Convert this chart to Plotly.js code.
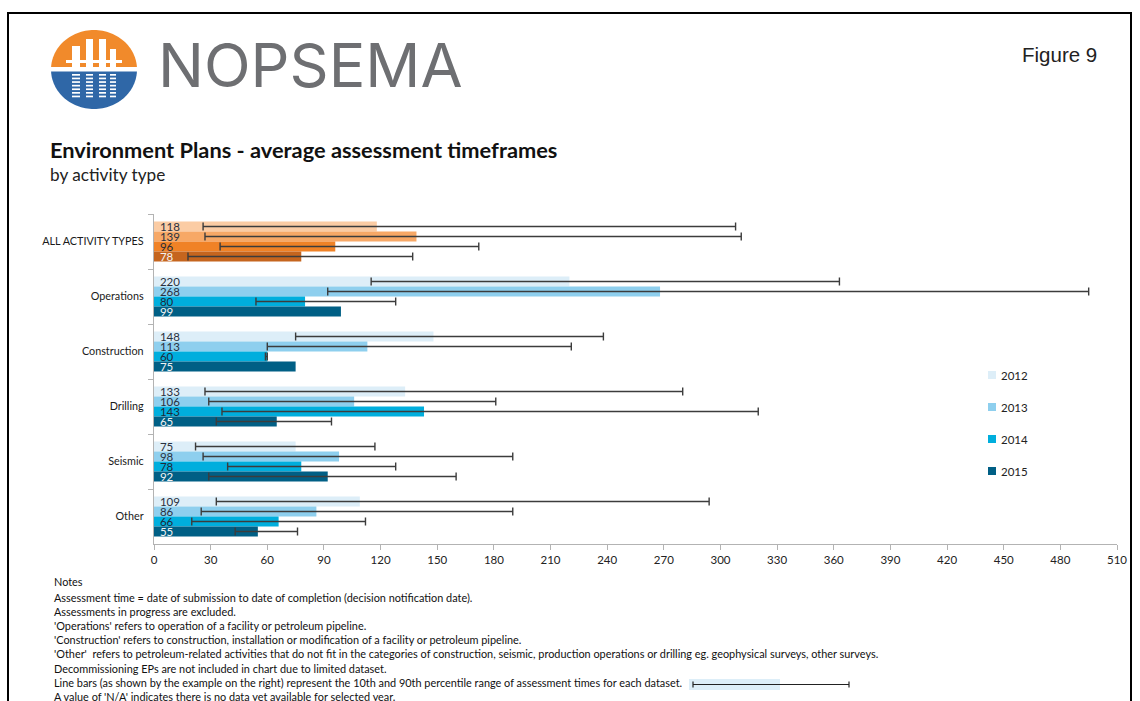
<!DOCTYPE html>
<html>
<head>
<meta charset="utf-8">
<script src="https://cdn.plot.ly/plotly-3.0.1.min.js"></script>
<style>
html,body{margin:0;padding:0;background:#fff;}
#chart{width:1140px;height:701px;}
</style>
</head>
<body>
<div id="chart"></div>
<script>
// ---------------- DATA ----------------
var categories = ['ALL ACTIVITY TYPES', 'Operations', 'Construction', 'Drilling', 'Seismic', 'Other'];
var years = ['2012', '2013', '2014', '2015'];

// average assessment time (days)
var avg2012 = [118, 220, 148, 133, 75, 109];
var avg2013 = [139, 268, 113, 106, 98, 86];
var avg2014 = [96, 80, 60, 143, 78, 66];
var avg2015 = [78, 99, 75, 65, 92, 55];

// 10th percentile
var p10_2012 = [26, 115, 75, 27, 22, 33];
var p10_2013 = [27, 92, 60, 29, 26, 25];
var p10_2014 = [35, 54, 59, 36, 39, 20];
var p10_2015 = [18, null, null, 33, 29, 43];

// 90th percentile
var p90_2012 = [308, 363, 238, 280, 117, 294];
var p90_2013 = [311, 495, 221, 181, 190, 190];
var p90_2014 = [172, 128, 60, 320, 128, 112];
var p90_2015 = [137, null, null, 94, 160, 76];

var xTicks = [0, 30, 60, 90, 120, 150, 180, 210, 240, 270, 300, 330, 360, 390, 420, 450, 480, 510];

var notes = [
  'Notes',
  'Assessment time = date of submission to date of completion (decision notification date).',
  'Assessments in progress are excluded.',
  "'Operations' refers to operation of a facility or petroleum pipeline.",
  "'Construction' refers to construction, installation or modification of a facility or petroleum pipeline.",
  "'Other'  refers to petroleum-related activities that do not fit in the categories of construction, seismic, production operations or drilling eg. geophysical surveys, other surveys.",
  'Decommissioning EPs are not included in chart due to limited dataset.',
  'Line bars (as shown by the example on the right) represent the 10th and 90th percentile range of assessment times for each dataset.',
  "A value of 'N/A' indicates there is no data yet available for selected year."
];

// ---------------- STYLE ----------------
var blueColors = ['#DDEEF8', '#8ECFEE', '#00AEDD', '#005F85'];
var orangeColors = ['#FBCCA4', '#F7A866', '#F08226', '#C5651E'];
var labelColors = ['#2a3140', '#2a3140', '#1f2a38', '#f2f2f2'];
var FONT = 'Lato, "Open Sans", sans-serif';

// plot area in pixels
var PL = 154, PR = 1117, PT = 214, PB = 544;
function X(px) { return (px - PL) / (PR - PL); }
function Y(py) { return (PB - py) / (PB - PT); }

var avgs = [avg2012, avg2013, avg2014, avg2015];
var p10s = [p10_2012, p10_2013, p10_2014, p10_2015];
var p90s = [p90_2012, p90_2013, p90_2014, p90_2015];

var traces = [];
for (var k = 0; k < 4; k++) {
  var m = avgs[k];
  var plus = m.map(function (v, i) { var h = p90s[k][i]; return h == null ? NaN : h - v; });
  var minus = m.map(function (v, i) { var l = p10s[k][i]; return l == null ? NaN : v - l; });
  var cols = categories.map(function (c, i) { return i === 0 ? orangeColors[k] : blueColors[k]; });
  traces.push({
    type: 'bar',
    orientation: 'h',
    name: years[k],
    y: categories,
    x: m,
    text: m.map(function (v) { return '\u00a0' + v; }),
    textposition: 'inside',
    insidetextanchor: 'start',
    constraintext: 'none',
    textangle: 0,
    textfont: { family: FONT, size: 11.5, color: labelColors[k] },
    marker: { color: cols, line: { width: 0 } },
    error_x: {
      type: 'data', symmetric: false, array: plus, arrayminus: minus,
      color: '#3c3c3c', thickness: 1.4, width: 4
    },
    showlegend: false,
    hoverinfo: 'skip'
  });
}

// ---------------- SHAPES ----------------
var shapes = [];
function rectPx(x0, y0, x1, y1, fill, line) {
  shapes.push({ type: 'rect', xref: 'paper', yref: 'paper', x0: X(x0), x1: X(x1), y0: Y(y1), y1: Y(y0),
    fillcolor: fill, line: line || { width: 0 }, layer: 'above' });
}
function linePx(x0, y0, x1, y1, color, w) {
  shapes.push({ type: 'line', xref: 'paper', yref: 'paper', x0: X(x0), x1: X(x1), y0: Y(y0), y1: Y(y1),
    line: { color: color, width: w }, layer: 'above' });
}
function pathPx(pts, fill) {
  var s = pts.map(function (p, i) { return (i ? 'L' : 'M') + X(p[0]).toFixed(5) + ',' + Y(p[1]).toFixed(5); }).join(' ') + ' Z';
  shapes.push({ type: 'path', xref: 'paper', yref: 'paper', path: s, fillcolor: fill, line: { width: 0 }, layer: 'above' });
}

// page frame
shapes.push({ type: 'rect', xref: 'paper', yref: 'paper', x0: X(8), x1: X(1131), y0: Y(740), y1: Y(13),
  line: { color: '#000', width: 2 }, fillcolor: 'rgba(0,0,0,0)', layer: 'below' });

// logo (circle split in orange / blue)
(function () {
  var cx = 94, cy = 69.5, rx = 43, ry = 39.5, N = 60;
  var top = [], bot = [];
  var yCutTop = 67, yCutBot = 71.5;
  var a0 = Math.asin((cy - yCutTop) / ry), a1 = Math.asin((yCutBot - cy) / ry);
  for (var i = 0; i <= N; i++) {
    var t = a0 + (Math.PI - 2 * a0) * i / N;
    top.push([cx + rx * Math.cos(t), cy - ry * Math.sin(t)]);
    var u = a1 + (Math.PI - 2 * a1) * i / N;
    bot.push([cx + rx * Math.cos(u), cy + ry * Math.sin(u)]);
  }
  pathPx(top, '#F18A2B');
  pathPx(bot, '#2F67A7');
  // white structure (legs)
  var legs = [[72, 80, 46], [86, 93, 39], [99, 106, 39], [110, 116, 49]];
  legs.forEach(function (l) { rectPx(l[0], l[2], l[1], 68, '#ffffff'); });
  rectPx(66, 60, 122, 63, '#ffffff');
  // reflections
  legs.forEach(function (l, j) {
    for (var s = 0; s < 7; s++) {
      var yy = 74 + s * 3.6;
      if (yy > 100) break;
      rectPx(l[0], yy, l[1], yy + 1.7, '#ffffff');
    }
  });
})();

// custom legend
var annotations = [];
years.forEach(function (yr, k) {
  var cy = 375 + 32 * k;
  rectPx(988, cy - 4, 996, cy + 4, blueColors[k]);
  annotations.push({ xref: 'paper', yref: 'paper', x: X(999), y: Y(cy), xanchor: 'left', yanchor: 'middle',
    text: yr, showarrow: false, font: { family: FONT, size: 11.5, color: '#222' } });
});

// example line bar in notes
rectPx(689, 679, 780, 690, '#DDEEF8');
linePx(693, 684.5, 849, 684.5, '#222', 1.2);
linePx(693, 681.5, 693, 687.5, '#222', 1.2);
linePx(849, 681.5, 849, 687.5, '#222', 1.2);

// ---------------- TEXT ----------------
annotations.push({ xref: 'paper', yref: 'paper', x: X(156), y: Y(65), xanchor: 'left', yanchor: 'middle',
  text: 'NOPSEMA', showarrow: false, font: { family: 'Inter, "Noto Sans", sans-serif', size: 61, color: '#6e6f72' } });
annotations.push({ xref: 'paper', yref: 'paper', x: X(1099), y: Y(54), xanchor: 'right', yanchor: 'middle',
  text: 'Figure 9', showarrow: false, font: { family: '"Liberation Sans", Arial, sans-serif', size: 20.5, color: '#222' } });
annotations.push({ xref: 'paper', yref: 'paper', x: X(48), y: Y(149), xanchor: 'left', yanchor: 'middle',
  text: '<b>Environment Plans - average assessment timeframes</b>', showarrow: false,
  font: { family: FONT, size: 21.8, color: '#111' } });
annotations.push({ xref: 'paper', yref: 'paper', x: X(48), y: Y(174), xanchor: 'left', yanchor: 'middle',
  text: 'by activity type', showarrow: false, font: { family: FONT, size: 17.2, color: '#222' } });

var noteY = [581, 597, 611, 625, 639, 653, 668, 682, 696];
notes.forEach(function (t, i) {
  annotations.push({ xref: 'paper', yref: 'paper', x: X(52), y: Y(noteY[i]), xanchor: 'left', yanchor: 'middle',
    text: t, showarrow: false, font: { family: FONT, size: 10.9, color: '#111' } });
});

var layout = {
  width: 1140, height: 701,
  margin: { l: PL, r: 1140 - PR, t: PT, b: 701 - PB, pad: 0 },
  paper_bgcolor: '#fff', plot_bgcolor: '#fff',
  barmode: 'group', bargap: 0.27, bargroupgap: 0,
  showlegend: false,
  font: { family: FONT, color: '#222' },
  xaxis: {
    range: [0, 510], tickmode: 'array', tickvals: xTicks, ticktext: xTicks.map(String),
    showgrid: false, zeroline: false, showline: true, linecolor: '#b3b3b3', linewidth: 1.2,
    ticks: 'outside', ticklen: 5, tickcolor: '#b3b3b3',
    tickfont: { family: FONT, size: 11.5, color: '#222' }, fixedrange: true
  },
  yaxis: {
    type: 'category', categoryorder: 'array', categoryarray: categories, autorange: 'reversed',
    showgrid: false, zeroline: false, showline: true, linecolor: '#b3b3b3', linewidth: 1.2,
    ticks: 'outside', tickson: 'boundaries', ticklen: 5, tickcolor: '#b3b3b3',
    tickfont: { family: FONT, size: 10.8, color: '#1a1a1a' }, ticklabelstandoff: 7, fixedrange: true
  },
  shapes: shapes,
  annotations: annotations
};

Plotly.newPlot('chart', traces, layout, { displayModeBar: false, staticPlot: true });
</script>
</body>
</html>
